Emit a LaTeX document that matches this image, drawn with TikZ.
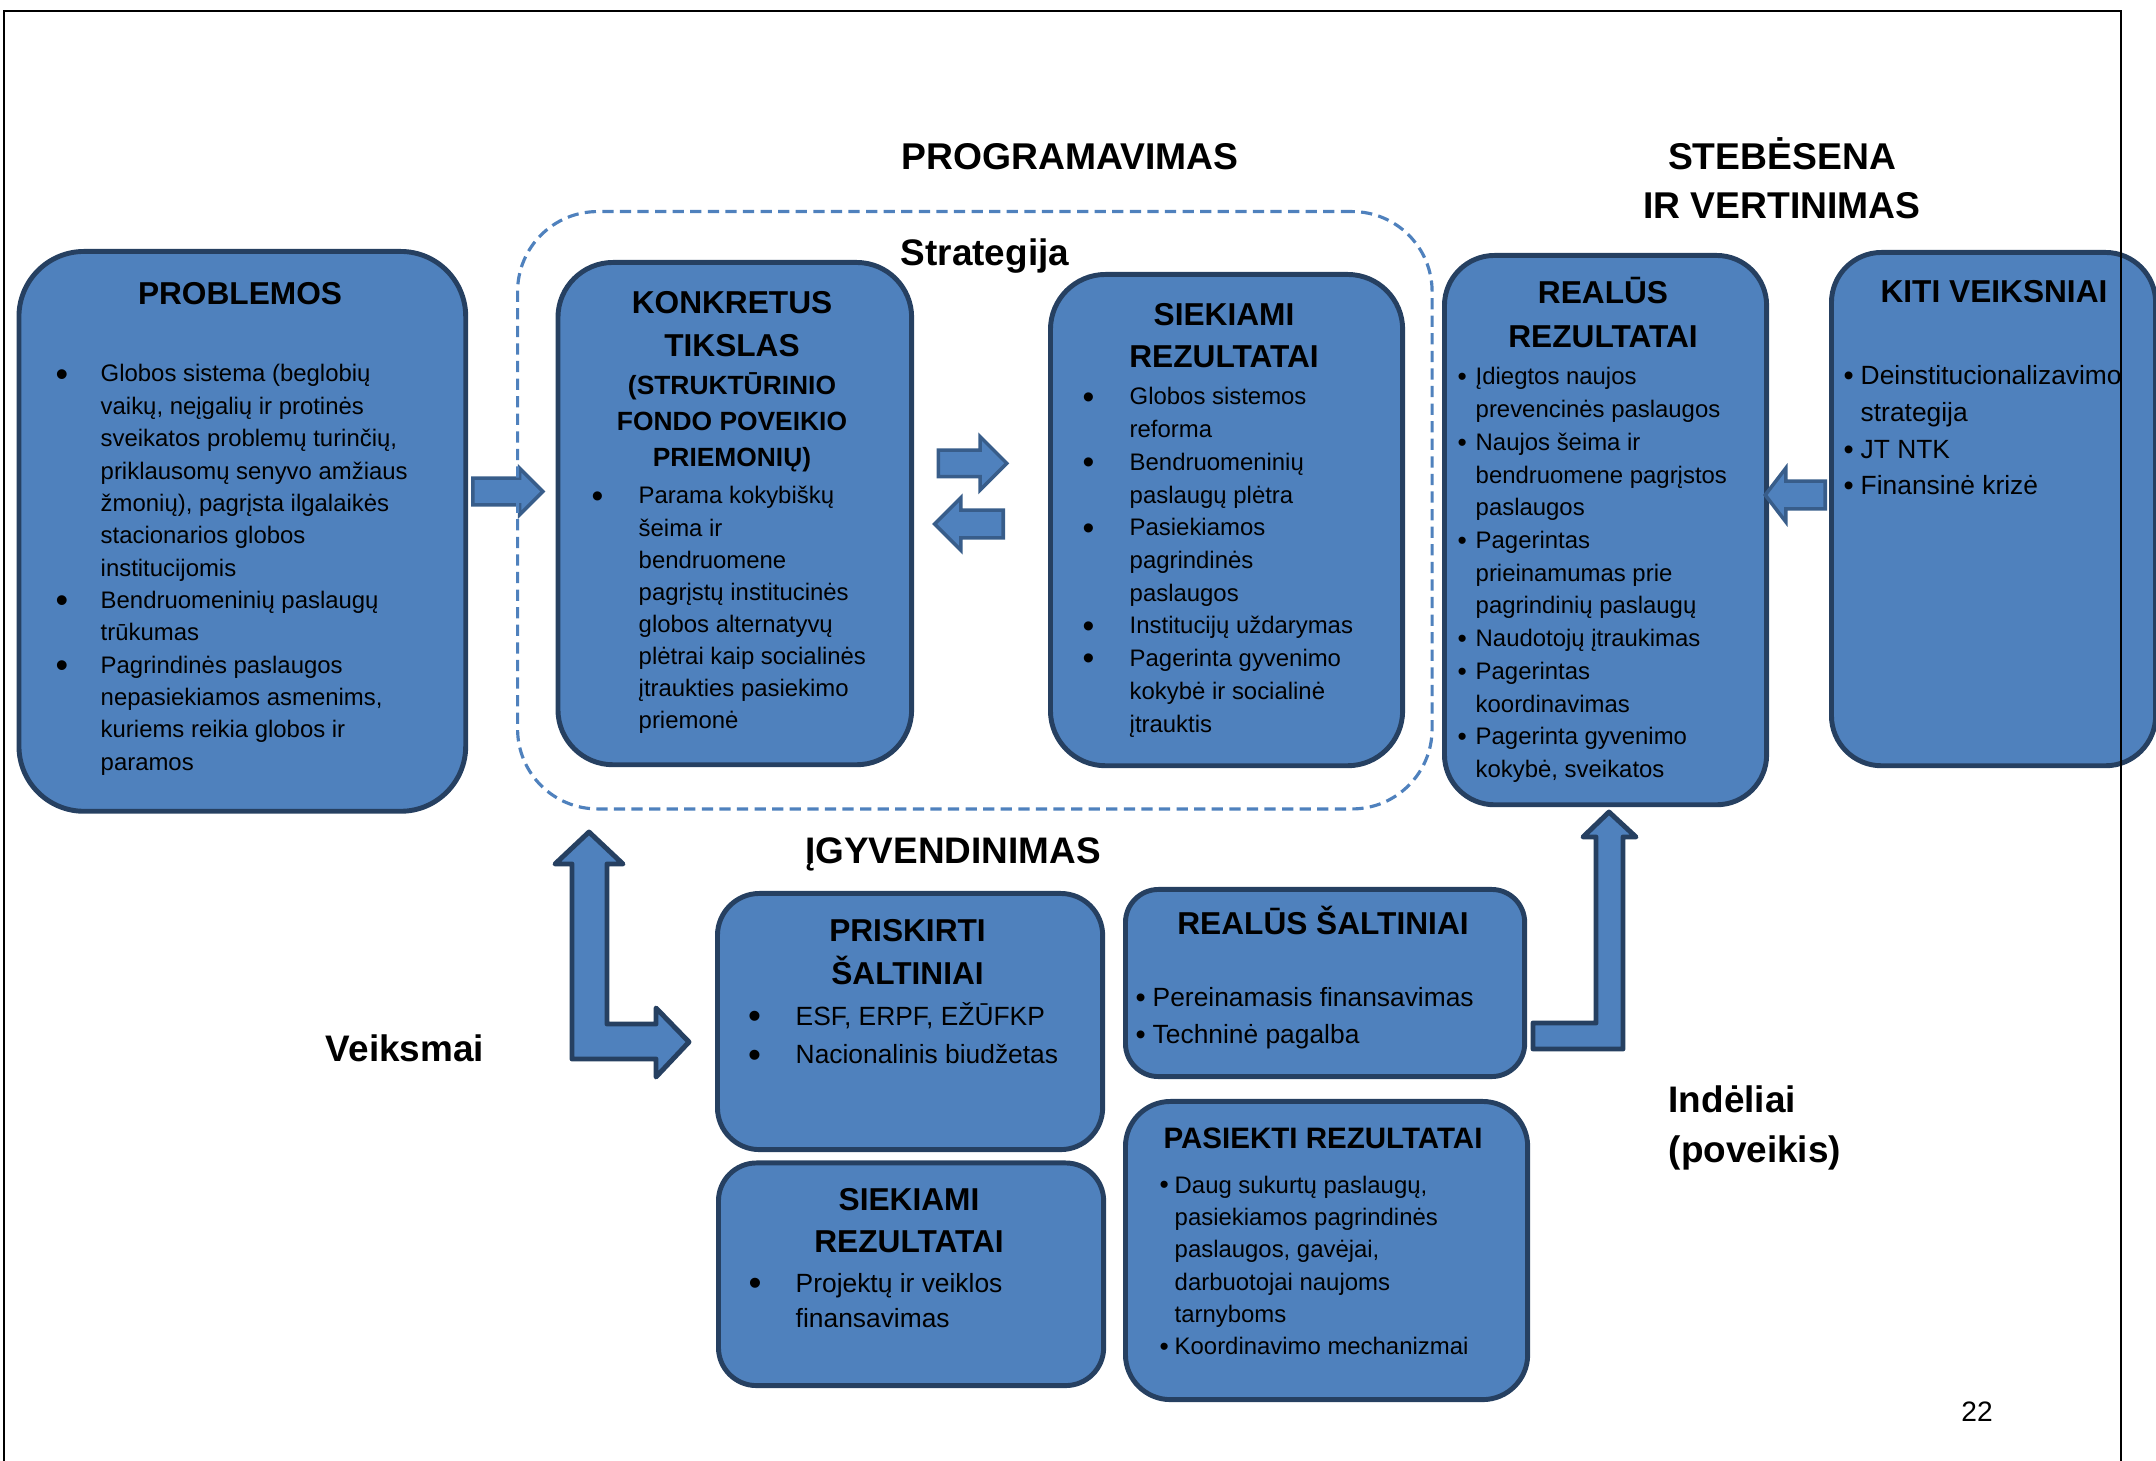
\documentclass[tikz,border=0pt]{standalone}
\usepackage{graphicx}
\usepackage{fontspec}
\setmainfont{Liberation Sans}
\usetikzlibrary{shapes.arrows}
\definecolor{boxfill}{HTML}{4F81BD}
\definecolor{boxline}{HTML}{264061}
\definecolor{arrline}{HTML}{385D8A}
\newlength\dotskip
\newlength\dotraise
\newcommand\dotscale{1}
\newcommand\fs[2]{\fontsize{#1}{#2}\selectfont}
\newcommand\itm{\par\hangindent=\dotskip\hangafter=1\noindent
  \makebox[\dotskip][l]{\raisebox{-\dotraise}{\scalebox{\dotscale}{\textbullet}}}}
\newcommand\blist[5]{\begin{minipage}[t]{4.8cm}\fs{#2}{#3}\setlength\dotskip{#1}\renewcommand\dotscale{#4}%
  \setlength\dotraise{#4\dimexpr0.35em\relax}\addtolength\dotraise{-0.35em}#5\end{minipage}}
\newcommand\ctr[3]{\begin{minipage}[t]{4cm}\centering\fs{#1}{#2}#3\end{minipage}}
\tikzset{
  box/.style={draw=boxline, fill=boxfill, line width=1.4pt, rounded corners=#1, inner sep=0, anchor=north west},
  box/.default=0.55cm,
  ttl/.style={anchor=base, inner sep=0, font=\bfseries},
  lst/.style={anchor=base west, inner sep=0},
  heading/.style={anchor=base, inner sep=0, font=\bfseries\fs{10.5}{14}},
  blockarrow/.style={single arrow, draw=arrline, fill=boxfill, line width=1pt, inner sep=0, text depth=0pt, anchor=tail},
  larrow/.style={draw=boxline, fill=boxfill, line width=1.4pt, line join=round},
  stratframe/.style={draw=boxfill, line width=0.9pt, dash pattern=on 3.2pt off 1.8pt, rounded corners=0.8cm, inner sep=0, anchor=north west}
}
\begin{document}
\begin{tikzpicture}[x=0.01cm, y=-0.01cm]
\useasboundingbox (0,0) rectangle (2156,1461);
% boxes
\node[box=0.65cm, minimum width=4.465cm, minimum height=5.595cm] (pb) at (16.5,249) {};
\node[box=0.55cm, minimum width=3.535cm, minimum height=5.02cm] (kt) at (555.5,260) {};
\node[box=0.55cm, minimum width=3.52cm, minimum height=4.91cm] (sr) at (1048,272) {};
\node[box=0.5cm, minimum width=3.22cm, minimum height=5.49cm] (rr) at (1442,253) {};
\node[box=0.5cm, minimum width=3.24cm, minimum height=5.13cm] (kv) at (1829,250) {};
\node[box=0.42cm, minimum width=3.85cm, minimum height=2.56cm] (ps) at (715,891) {};
\node[box=0.38cm, minimum width=3.85cm, minimum height=2.225cm] (sr2) at (716,1160.5) {};
\node[box=0.33cm, minimum width=3.99cm, minimum height=1.87cm] (rs) at (1123,887) {};
\node[box=0.45cm, minimum width=4.02cm, minimum height=2.98cm] (pr) at (1123,1099) {};

% titles
\node[ttl] (pb-t) at (240,305) {\ctr{9}{12}{PROBLEMOS}};
\node[ttl] (kt-t) at (732,313.5) {\ctr{9}{12.1}{KONKRETUS\\TIKSLAS}};
\node[ttl] (kt-s) at (732,394.5) {\ctr{7.5}{10.2}{(STRUKTŪRINIO\\FONDO POVEIKIO\\PRIEMONIŲ)}};
\node[ttl] (sr-t) at (1224,326) {\ctr{9}{11.7}{SIEKIAMI\\REZULTATAI}};
\node[ttl] (rr-t) at (1603,304) {\ctr{9}{12.5}{REALŪS\\REZULTATAI}};
\node[ttl] (kv-t) at (1994,302.5) {\ctr{9}{12}{KITI VEIKSNIAI}};
\node[ttl] (ps-t) at (907.5,942) {\ctr{9}{12.1}{PRISKIRTI\\ŠALTINIAI}};
\node[ttl] (sr2-t) at (909,1210) {\ctr{9}{12.1}{SIEKIAMI\\REZULTATAI}};
\node[ttl] (rs-t) at (1323,935) {\ctr{9}{12}{REALŪS ŠALTINIAI}};
\node[ttl] (pr-t) at (1323,1149) {\ctr{8.4}{11}{PASIEKTI REZULTATAI}};

% bullet lists
\node[lst] (pb-l) at (55,382) {\blist{0.45cm}{6.8}{9.2}{1.5}{%
  \itm Globos sistema (beglobių\newline vaikų, neįgalių ir protinės\newline sveikatos problemų turinčių,\newline priklausomų senyvo amžiaus\newline žmonių), pagrįsta ilgalaikės\newline stacionarios globos\newline institucijomis
  \itm Bendruomeninių paslaugų\newline trūkumas
  \itm Pagrindinės paslaugos\newline nepasiekiamos asmenims,\newline kuriems reikia globos ir\newline paramos}};
\node[lst] (kt-l) at (591,504) {\blist{0.47cm}{6.8}{9.13}{1.4}{%
  \itm Parama kokybiškų\newline šeima ir\newline bendruomene\newline pagrįstų institucinės\newline globos alternatyvų\newline plėtrai kaip socialinės\newline įtraukties pasiekimo\newline priemonė}};
\node[lst] (sr-l) at (1082,405) {\blist{0.47cm}{6.8}{9.3}{1.4}{%
  \itm Globos sistemos\newline reforma
  \itm Bendruomeninių\newline paslaugų plėtra
  \itm Pasiekiamos\newline pagrindinės\newline paslaugos
  \itm Institucijų uždarymas
  \itm Pagerinta gyvenimo\newline kokybė ir socialinė\newline įtrauktis}};
\node[lst] (rr-l) at (1457,385) {\blist{0.18cm}{6.8}{9.3}{1.1}{%
  \itm Įdiegtos naujos\newline prevencinės paslaugos
  \itm Naujos šeima ir\newline bendruomene pagrįstos\newline paslaugos
  \itm Pagerintas\newline prieinamumas prie\newline pagrindinių paslaugų
  \itm Naudotojų įtraukimas
  \itm Pagerintas\newline koordinavimas
  \itm Pagerinta gyvenimo\newline kokybė, sveikatos}};
\node[lst] (kv-l) at (1843,385) {\blist{0.17cm}{7.5}{10.4}{1.1}{%
  \itm Deinstitucionalizavimo\newline strategija
  \itm JT NTK
  \itm Finansinė krizė}};
\node[lst] (ps-l) at (747.5,1025) {\blist{0.475cm}{7.5}{10.9}{1.4}{%
  \itm ESF, ERPF, EŽŪFKP
  \itm Nacionalinis biudžetas}};
\node[lst] (sr2-l) at (748,1292) {\blist{0.47cm}{7.5}{10.2}{1.4}{%
  \itm Projektų ir veiklos\newline finansavimas}};
\node[lst] (rs-l) at (1135,1007) {\blist{0.17cm}{7.5}{10.5}{1.1}{%
  \itm Pereinamasis finansavimas
  \itm Techninė pagalba}};
\node[lst] (pr-l) at (1159,1193) {\blist{0.15cm}{6.8}{9.2}{1.1}{%
  \itm Daug sukurtų paslaugų,\newline pasiekiamos pagrindinės\newline paslaugos, gavėjai,\newline darbuotojai naujoms\newline tarnyboms
  \itm Koordinavimo mechanizmai}};

% block arrows
\node[blockarrow, minimum height=0.70cm, text height=0.23cm, single arrow head extend=0.10cm] (pb-kt) at (471,491.5) {};
\node[blockarrow, minimum height=0.685cm, text height=0.23cm, single arrow head extend=0.135cm] (kt-sr) at (936.5,463.3) {};
\node[blockarrow, shape border rotate=180, minimum height=0.685cm, text height=0.24cm, single arrow head extend=0.125cm] (sr-kt) at (1005,524) {};
\node[blockarrow, shape border rotate=180, single arrow tip angle=105, minimum height=0.60cm, text height=0.24cm, single arrow head extend=0.13cm] (kv-rr) at (1827,495) {};
\draw[larrow] (572,1059) -- (572,864) -- (555,864) -- (589,832) -- (623,864) -- (607,864) -- (607,1024)
  -- (656,1024) -- (656,1008) -- (689,1042) -- (656,1077) -- (656,1059) -- cycle;
\draw[larrow] (1533,1049) -- (1533,1023) -- (1596,1023) -- (1596,837) -- (1583,837) -- (1609,812)
  -- (1636,837) -- (1623,837) -- (1623,1049) -- cycle;

% strategy frame
\node[stratframe, minimum width=9.14cm, minimum height=5.97cm] (strat) at (516,210) {};

% headings
\node[heading, font=\bfseries\fs{10.6}{14}] (prog) at (1070,170) {PROGRAMAVIMAS};
\node[heading] (steb) at (1782,170) {\ctr{10.6}{13.9}{STEBĖSENA\\IR VERTINIMAS}};
\node[heading] (strat-t) at (985,266) {Strategija};
\node[heading] (igyv) at (953,864) {ĮGYVENDINIMAS};
\node[heading] (veik) at (405,1062) {Veiksmai};
\node[heading, anchor=base west] (indel) at (1668,1113) {\begin{minipage}[t]{3cm}\fs{10.5}{14}Indėliai\\(poveikis)\end{minipage}};
\node[anchor=base, inner sep=0, font=\fs{8}{10}] (page) at (1977,1422) {22};

% page frame
\draw[line width=0.6pt] (4,1461) -- (4,11) -- (2121,11) -- (2121,1461);
\end{tikzpicture}
\end{document}
